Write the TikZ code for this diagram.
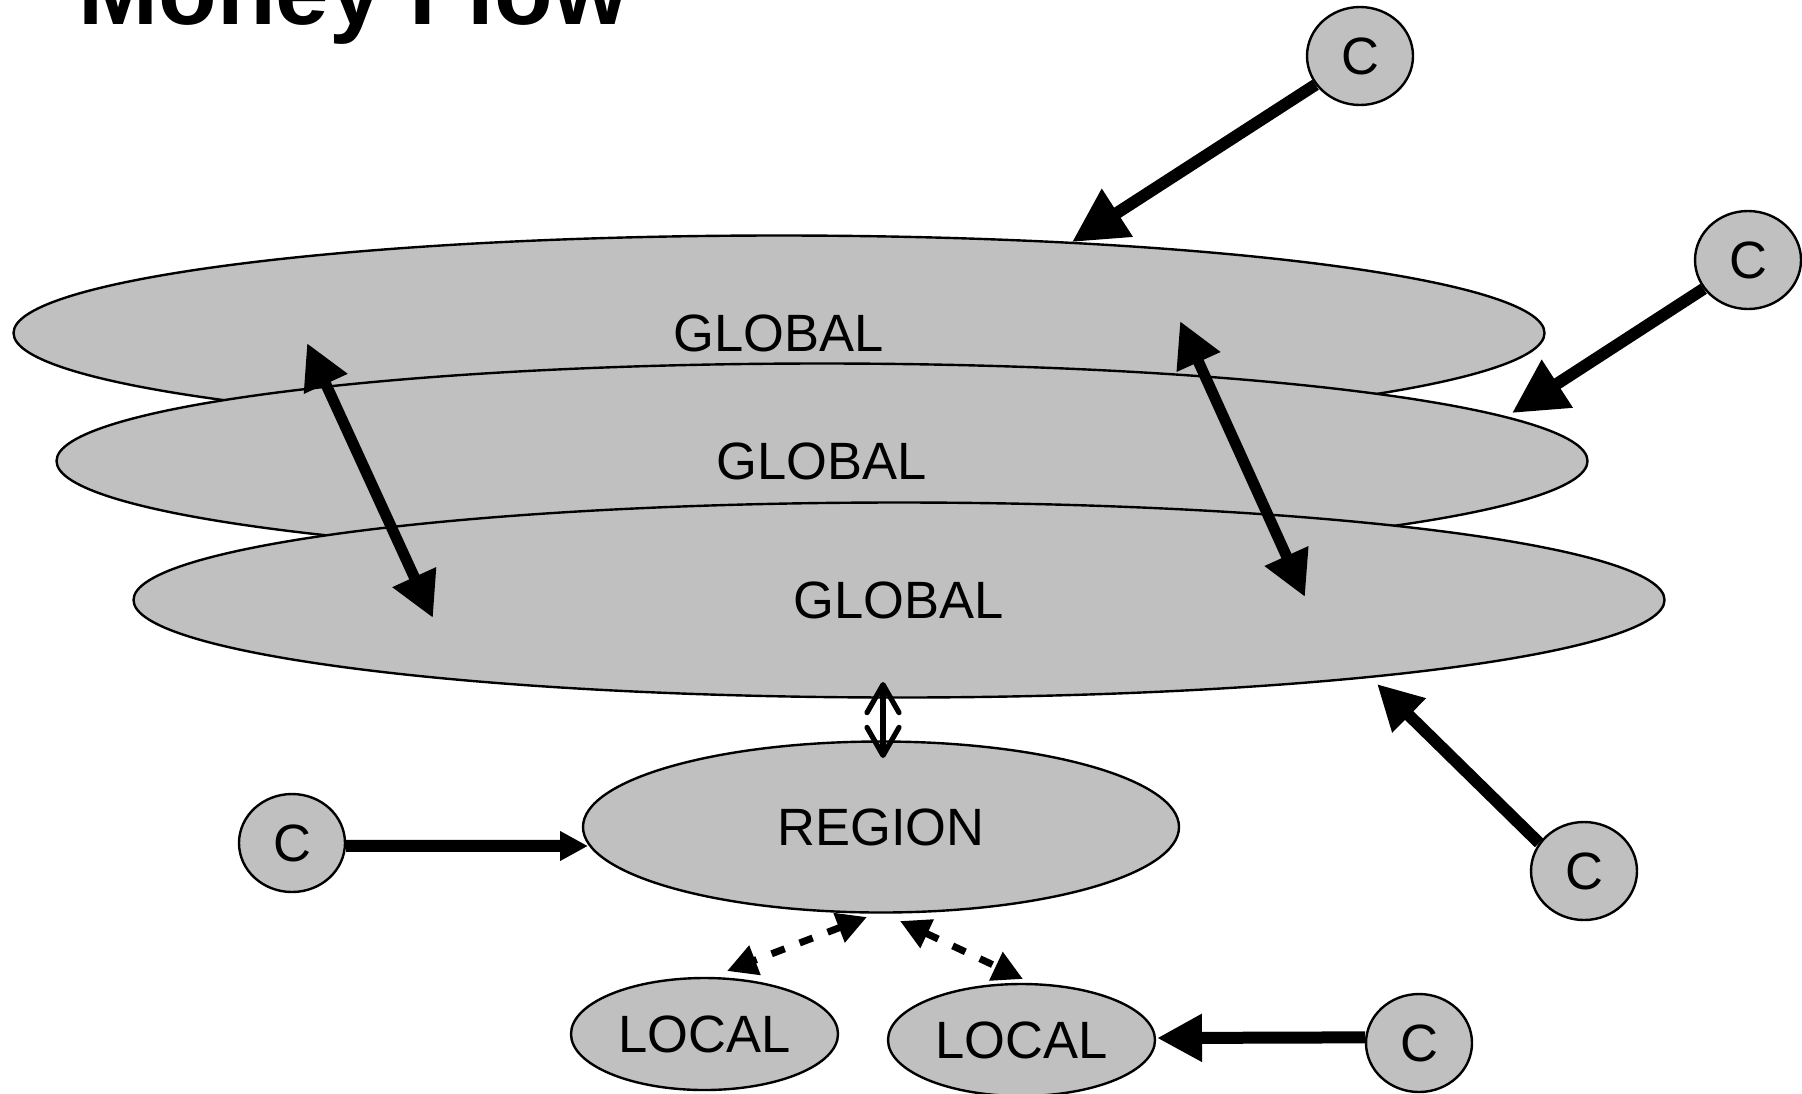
\documentclass[tikz,border=0pt]{standalone}
\usepackage{fontspec}
\setmainfont{Liberation Sans}
\usetikzlibrary{shapes.geometric,arrows.meta}
\definecolor{silver}{HTML}{C0C0C0}
\begin{document}
\begin{tikzpicture}[x=0.5pt,y=-0.5pt,
  blob/.style={ellipse,draw=black,line width=1.2pt,fill=silver,inner sep=0pt,font=\fontsize{26.25}{30}\selectfont},
  layer/.style={blob,minimum width=765.5pt,minimum height=97.5pt},
  cnode/.style={blob,minimum width=53pt,minimum height=49pt},
  small/.style={blob,minimum width=133.5pt,minimum height=56pt},
  bigarrow/.style={line width=6pt,-{Triangle[length=27pt,width=27pt]}},
  midarrow/.style={line width=6pt,-{Triangle[length=22.5pt,width=22.5pt]}},
  smallarrow/.style={line width=6pt,-{Triangle[length=14pt,width=14pt]}},
  twoway/.style={line width=5.5pt,{Triangle[length=22.5pt,width=22.5pt]}-{Triangle[length=22.5pt,width=22.5pt]}},
  openway/.style={line width=2.6pt,line cap=round,{Straight Barb[length=14pt,width=16pt,round]}-{Straight Barb[length=14pt,width=16pt,round]}},
  dashway/.style={line width=3.5pt,dash pattern=on 7pt off 8pt,{Triangle[length=15pt,width=15pt]}-{Triangle[length=15pt,width=15pt]}}
]
\useasboundingbox (0,0) rectangle (1802,1093);
\clip (0,0) rectangle (1802,1093);

\node[anchor=base west,inner sep=0pt,font=\fontsize{48}{50}\selectfont\bfseries] (title) at (78,24) {Money Flow};

\node[layer] (g1) at (779,333) {GLOBAL};
\node[layer] (g2) at (822,461) {GLOBAL};
\node[layer] (g3) at (899,600) {GLOBAL};
\node[blob,minimum width=298pt,minimum height=85.5pt] (reg) at (881,827) {REGION};
\node[small] (l1) at (704.5,1034) {LOCAL};
\node[small] (l2) at (1021.5,1040) {LOCAL};

\node[cnode] (c1) at (1360,56) {C};
\node[cnode] (c2) at (1748,260) {C};
\node[cnode] (c3) at (1584,871) {C};
\node[cnode] (c4) at (292,843) {C};
\node[cnode] (c5) at (1419,1043) {C};

\coordinate (t1) at (1072,242);
\coordinate (t2) at (1512,413);
\coordinate (t3) at (1377,684);
\coordinate (t4) at (588,846);
\coordinate (t5) at (1157,1038);
\coordinate (a1) at (307,343);
\coordinate (b1) at (433,618);
\coordinate (a2) at (1180,321);
\coordinate (b2) at (1305,597);
\coordinate (v1) at (883,682);
\coordinate (v2) at (883,758);
\coordinate (d1) at (867,917);
\coordinate (d2) at (727,971);
\coordinate (e1) at (900,921);
\coordinate (e2) at (1023,979);

\draw[bigarrow] (c1) -- (t1);
\draw[bigarrow] (c2) -- (t2);
\draw[midarrow] (c3.148) -- (t3);
\draw[smallarrow] (c4.-3) -- (t4);
\draw[midarrow] (c5.174) -- (t5);
\draw[twoway] (a1) -- (b1);
\draw[twoway] (a2) -- (b2);
\draw[openway] (v1) -- (v2);
\draw[dashway] (d1) -- (d2);
\draw[dashway] (e1) -- (e2);
\end{tikzpicture}
\end{document}
